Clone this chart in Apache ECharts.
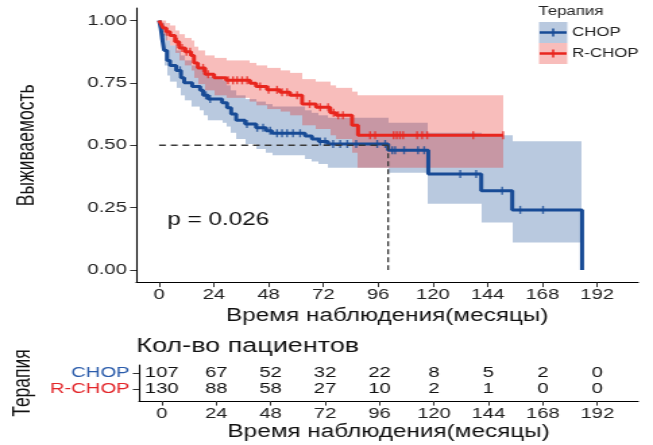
<!DOCTYPE html>
<html><head><meta charset="utf-8">
<script src="https://cdn.jsdelivr.net/npm/echarts@6/dist/echarts.min.js"></script>
<style>html,body{margin:0;padding:0;background:#fff;overflow:hidden;}#c{width:484px;height:445px;transform:scaleX(1.34917);transform-origin:0 0;}</style>
</head><body><div id="c"></div>
<script>
// ---- data (months, survival probability) ----
const groups = ['CHOP', 'R-CHOP'];
const chopT = [0, 0.7, 1.3, 2.2, 3.5, 4.8, 7.5, 9.6, 11, 14.5, 18, 19.3, 21.5, 27.6, 29.8, 31.6, 33.8, 37.7, 42.5, 46.9, 49.5, 64, 67, 70, 74, 100.4, 118, 141.2, 154.8, 185.4];
const chopS = [1, 0.97, 0.93, 0.88, 0.84, 0.82, 0.80, 0.77, 0.75, 0.735, 0.72, 0.70, 0.685, 0.67, 0.65, 0.625, 0.60, 0.585, 0.57, 0.558, 0.548, 0.537, 0.525, 0.515, 0.505, 0.48, 0.385, 0.318, 0.241, 0];
const chopHi = [1, 1, 0.99, 0.96, 0.92, 0.90, 0.88, 0.86, 0.84, 0.82, 0.81, 0.79, 0.775, 0.76, 0.74, 0.72, 0.70, 0.685, 0.675, 0.665, 0.655, 0.64, 0.63, 0.62, 0.61, 0.59, 0.55, 0.54, 0.516];
const chopLo = [1, 0.94, 0.89, 0.82, 0.78, 0.755, 0.73, 0.70, 0.68, 0.655, 0.64, 0.62, 0.60, 0.59, 0.575, 0.55, 0.525, 0.505, 0.485, 0.47, 0.46, 0.445, 0.435, 0.425, 0.41, 0.39, 0.266, 0.19, 0.11];
const chopCensor = [1.8, 9.2, 20.5, 22.4, 38.5, 43, 45.6, 48.7, 51.7, 53.9, 56.1, 58.7, 61.8, 70.6, 72.8, 76.3, 79.4, 82.5, 86.4, 95.6, 99.1, 102.2, 103.5, 107.4, 113.5, 116.2, 132, 139, 150.4, 158.3, 168.3];

const rchopT = [0, 0.9, 1.8, 3.1, 4.8, 7, 8.8, 11.4, 14, 15.3, 17, 20.2, 24.1, 29.4, 39.9, 42.5, 47.3, 53, 57.4, 62.7, 68.8, 75, 77.6, 84.6, 87.2, 150.8];
const rchopS = [1, 0.985, 0.97, 0.955, 0.94, 0.915, 0.89, 0.875, 0.86, 0.83, 0.81, 0.785, 0.77, 0.76, 0.748, 0.735, 0.722, 0.712, 0.70, 0.665, 0.652, 0.63, 0.62, 0.58, 0.54, 0.54];
const rchopHi = [1, 1, 1, 0.99, 0.98, 0.96, 0.945, 0.93, 0.92, 0.895, 0.88, 0.86, 0.85, 0.84, 0.83, 0.82, 0.81, 0.80, 0.79, 0.765, 0.755, 0.74, 0.73, 0.715, 0.70];
const rchopLo = [1, 0.96, 0.94, 0.92, 0.90, 0.87, 0.84, 0.82, 0.80, 0.77, 0.745, 0.72, 0.70, 0.69, 0.675, 0.66, 0.645, 0.635, 0.62, 0.58, 0.565, 0.54, 0.525, 0.47, 0.41];
const rchopCensor = [3.5, 7.9, 10.1, 12, 13.6, 19.3, 21.5, 30.2, 32.4, 34.2, 36.4, 38.6, 44.3, 48, 51.7, 53.9, 56.1, 60.5, 66, 70.6, 74.1, 76.5, 78.5, 80.6, 92.5, 94.7, 102.8, 104.2, 105.6, 107, 113.1, 115.3, 117.5, 137.7, 150.8];

const tickMonths = [0, 24, 48, 72, 96, 120, 144, 168, 192];
const chopRisk = [107, 67, 52, 32, 22, 8, 5, 2, 0];
const rchopRisk = [130, 88, 58, 27, 10, 2, 1, 0, 0];
const yTicks = [0, 0.25, 0.5, 0.75, 1];
const pText = 'p = 0.026';

// ---- helpers building library data from the arrays ----
const BLUE = '#184B96', RED = '#E8261E';
const BLUE_F = 'rgba(24,75,150,0.3)', RED_F = 'rgba(232,38,30,0.3)';
const FONT = '"Liberation Sans", Arial, sans-serif';
function stepLine(T, S) { return T.map((t, i) => [t, S[i]]); }
function bandRows(T, lo, hi) { return lo.map((l, i) => [T[i], T[i + 1], l, hi[i]]); }
function stepAt(T, S, t) { let v = S[0]; for (let i = 0; i < T.length; i++) { if (T[i] <= t) v = S[i]; } return v; }
function censorPts(T, S, C) { return C.map(c => [c, stepAt(T, S, c)]); }
let chopMedian = null;
for (let i = 0; i < chopT.length; i++) { if (chopS[i] <= 0.5) { chopMedian = chopT[i]; break; } }

function bandSeries(rows, fill) {
  return {
    type: 'custom', xAxisIndex: 0, yAxisIndex: 0, silent: true, z: 1,
    encode: { x: [0, 1], y: [2, 3] },
    renderItem: function (params, api) {
      const p0 = api.coord([api.value(0), api.value(3)]);
      const p1 = api.coord([api.value(1), api.value(2)]);
      const x0 = Math.round(p0[0]), x1 = Math.round(p1[0]);
      return { type: 'rect', shape: { x: x0, y: p0[1], width: x1 - x0, height: p1[1] - p0[1] }, style: { fill: fill } };
    },
    data: rows
  };
}
function riskSeries(vals, row) {
  return {
    type: 'custom', xAxisIndex: 1, yAxisIndex: 1, silent: true,
    data: tickMonths.map((t, i) => [t, row, vals[i]]),
    renderItem: function (params, api) {
      const p = api.coord([api.value(0), api.value(1)]);
      return { type: 'text', x: p[0], y: p[1], style: { text: String(api.value(2)), fontSize: 15, fontFamily: FONT, fill: '#111', align: 'center', verticalAlign: 'middle' } };
    }
  };
}
const axisLineStyle = { onZero: false, lineStyle: { color: '#000', width: 1.1 } };
function xAx(gridIndex, gap) {
  return {
    type: 'value', gridIndex: gridIndex, min: -10, max: 210,
    axisLine: axisLineStyle, splitLine: { show: false },
    axisTick: { customValues: tickMonths, length: 4.6, lineStyle: { color: '#333' } },
    axisLabel: { customValues: tickMonths, fontSize: 15, color: '#222', margin: 5, fontFamily: FONT },
    name: 'Время наблюдения(месяцы)', nameLocation: 'middle', nameGap: gap,
    nameTextStyle: { fontSize: 18, color: '#111', fontFamily: FONT }
  };
}

const chart = echarts.init(document.getElementById('c'), null, { renderer: 'canvas' });
chart.setOption({
  animation: false,
  backgroundColor: '#fff',
  textStyle: { fontFamily: FONT },
  title: { text: 'Кол-во пациентов', left: 101, top: 336, padding: 0, textStyle: { fontSize: 20, fontWeight: 'normal', color: '#111', fontFamily: FONT } },
  grid: [
    { left: 101, right: 11, top: 8, height: 274.5 },
    { left: 101, right: 11, top: 365, height: 36 }
  ],
  xAxis: [xAx(0, 20.5), xAx(1, 22)],
  yAxis: [
    {
      type: 'value', gridIndex: 0, min: -0.05, max: 1.05,
      axisLine: axisLineStyle, splitLine: { show: false },
      axisTick: { customValues: yTicks, length: 4.6, lineStyle: { color: '#333' } },
      axisLabel: { customValues: yTicks, fontSize: 15, color: '#222', margin: 7, fontFamily: FONT, formatter: v => v.toFixed(2) },
      name: 'Выживаемость', nameLocation: 'middle', nameRotate: 90, nameGap: 72,
      nameTextStyle: { fontSize: 17.5, color: '#111', fontFamily: FONT }
    },
    {
      type: 'value', gridIndex: 1, min: -0.75, max: 1.5,
      axisLine: axisLineStyle, splitLine: { show: false },
      axisTick: { customValues: [0, 1], length: 4.6, lineStyle: { color: '#333' } },
      axisLabel: { customValues: [0, 1], margin: 7, fontFamily: FONT,
        formatter: v => v >= 0.5 ? '{c|' + groups[0] + '}' : '{r|' + groups[1] + '}',
        rich: { c: { color: '#2B5CAB', fontSize: 15, fontFamily: FONT }, r: { color: '#E3262A', fontSize: 15, fontFamily: FONT } } },
      name: 'Терапия', nameLocation: 'middle', nameRotate: 90, nameGap: 72,
      nameTextStyle: { fontSize: 17.5, color: '#111', fontFamily: FONT }
    }
  ],
  series: [
    bandSeries(bandRows(chopT, chopLo, chopHi), BLUE_F),
    bandSeries(bandRows(rchopT, rchopLo, rchopHi), RED_F),
    { type: 'line', step: 'end', data: stepLine(chopT, chopS), showSymbol: false, symbol: 'none', lineStyle: { color: BLUE, width: 3 }, z: 3, silent: true },
    { type: 'line', step: 'end', data: stepLine(rchopT, rchopS), showSymbol: false, symbol: 'none', lineStyle: { color: RED, width: 3 }, z: 4, silent: true },
    { type: 'scatter', data: censorPts(chopT, chopS, chopCensor), symbol: 'rect', symbolSize: [1.4, 8], itemStyle: { color: BLUE }, z: 5, silent: true },
    { type: 'scatter', data: censorPts(rchopT, rchopS, rchopCensor), symbol: 'rect', symbolSize: [1.4, 8], itemStyle: { color: RED }, z: 6, silent: true },
    { type: 'line', data: [[0, 0.5], [chopMedian, 0.5]], showSymbol: false, symbol: 'none', lineStyle: { color: '#3a3a3a', width: 1.3, type: [5, 3.7] }, z: 7, silent: true },
    { type: 'line', data: [[chopMedian, 0.5], [chopMedian, 0]], showSymbol: false, symbol: 'none', lineStyle: { color: '#3a3a3a', width: 1.3, type: [5, 3] }, z: 7, silent: true },
    riskSeries(chopRisk, 1),
    riskSeries(rchopRisk, 0)
  ],
  graphic: [
    { type: 'text', left: 124, top: 211, style: { text: pText, fontSize: 18, fill: '#111', fontFamily: FONT } },
    { type: 'text', left: 399, top: 5, style: { text: 'Терапия', fontSize: 12.5, fill: '#222', fontFamily: FONT } },
    { type: 'rect', left: 399.5, top: 22, shape: { width: 21, height: 21 }, style: { fill: BLUE_F } },
    { type: 'rect', left: 399.5, top: 43, shape: { width: 21, height: 21 }, style: { fill: RED_F } },
    { type: 'line', shape: { x1: 400, y1: 32.5, x2: 420, y2: 32.5 }, style: { stroke: BLUE, lineWidth: 2.5 } },
    { type: 'line', shape: { x1: 410, y1: 28.5, x2: 410, y2: 36.5 }, style: { stroke: BLUE, lineWidth: 1.5 } },
    { type: 'line', shape: { x1: 400, y1: 53.5, x2: 420, y2: 53.5 }, style: { stroke: RED, lineWidth: 2.5 } },
    { type: 'line', shape: { x1: 410, y1: 49.5, x2: 410, y2: 57.5 }, style: { stroke: RED, lineWidth: 1.5 } },
    { type: 'text', left: 424, top: 26, style: { text: groups[0], fontSize: 12.5, fill: '#222', fontFamily: FONT } },
    { type: 'text', left: 424, top: 47, style: { text: groups[1], fontSize: 12.5, fill: '#222', fontFamily: FONT } }
  ]
});
</script>
</body></html>
